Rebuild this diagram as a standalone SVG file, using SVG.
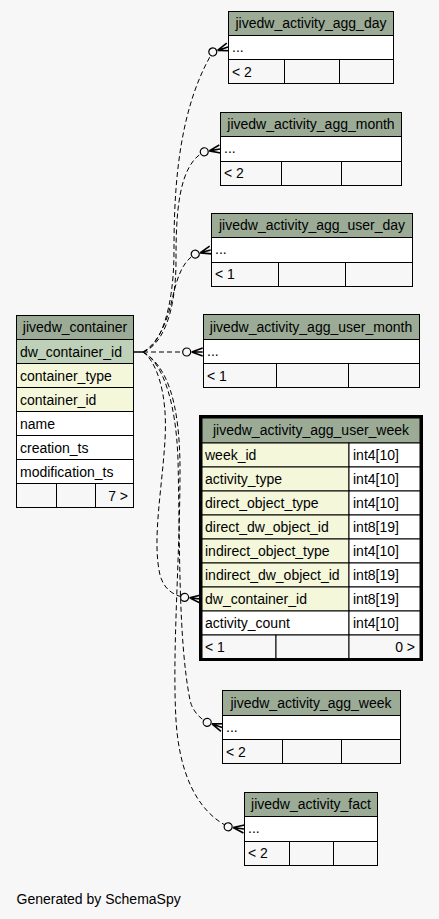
<svg xmlns="http://www.w3.org/2000/svg" xmlns:xlink="http://www.w3.org/1999/xlink" width="439" height="919" viewBox="0 0 439 919">
<style>
text{font-family:"Liberation Sans",Arial,sans-serif;font-size:14px;fill:#000}
.h{fill:#9bab96;stroke:#000;stroke-width:1}
.pk{fill:#bed1b8;stroke:#000;stroke-width:1}
.fk{fill:#f4f7da;stroke:#000;stroke-width:1}
.w{fill:#ffffff;stroke:#000;stroke-width:1}
.f{fill:#f7f7f7;stroke:#000;stroke-width:1}
.c{text-anchor:middle}
.r{text-anchor:end}
.e{fill:none;stroke:#000;stroke-width:1;stroke-dasharray:5,3}
</style>
<defs>
<g id="crow">
<circle cx="-16" cy="0" r="4" fill="#f7f7f7" stroke="#000" stroke-width="1.2"/>
<path d="M-11,0 L0,-4 M-11,0 L0,0 M-11,0 L0,4" fill="none" stroke="#000" stroke-width="1.6"/>
</g>
</defs>
<rect x="0" y="0" width="439" height="919" fill="#f7f7f7"/>
<g id="connectors">
<line x1="133" y1="352" x2="143" y2="352" stroke="#000" stroke-width="1.5"/>
<path class="e" d="M143,352 C160,346 174,310 174,250 C174,190 178,110 212.8,51.9"/>
<path class="e" d="M143,352 C160,346 176,318 176,260 C176,215 178,165 204.2,151.8"/>
<path class="e" d="M143,352 C155,345 165,330 172,300 C177,278 182,262 195.2,254.1"/>
<path class="e" d="M143,352 L186.7,352"/>
<path class="e" d="M143,352 C155,360 168,390 165,440 C162,490 152,540 160,575 C164,590 175,596 184.6,597.3"/>
<path class="e" d="M143,352 C162,362 176,400 178,460 C180,540 178,640 190,700 C192,710 199,718 207.2,722.3"/>
<path class="e" d="M143,352 C166,365 180,400 180,470 C180,560 172,650 176,720 C179,770 195,810 228.2,826.8"/>
<use xlink:href="#crow" transform="translate(228,47) rotate(-18)"/>
<use xlink:href="#crow" transform="translate(220,149) rotate(-10)"/>
<use xlink:href="#crow" transform="translate(210.7,250) rotate(-15)"/>
<use xlink:href="#crow" transform="translate(202.7,352)"/>
<use xlink:href="#crow" transform="translate(200.5,599) rotate(6)"/>
<use xlink:href="#crow" transform="translate(222.3,727.5) rotate(19)"/>
<use xlink:href="#crow" transform="translate(244,829) rotate(8)"/>
</g>
<g id="jivedw_container">
<rect class="h" x="16.5" y="315.5" width="117" height="24"/>
<text class="c" x="75" y="332">jivedw_container</text>
<rect class="pk" x="16.5" y="339.5" width="117" height="24"/>
<text x="20" y="356.5">dw_container_id</text>
<rect class="fk" x="16.5" y="363.5" width="117" height="24"/>
<text x="20" y="380.5">container_type</text>
<rect class="fk" x="16.5" y="387.5" width="117" height="24"/>
<text x="20" y="404.5">container_id</text>
<rect class="w" x="16.5" y="411.5" width="117" height="24"/>
<text x="20" y="428.5">name</text>
<rect class="w" x="16.5" y="435.5" width="117" height="24"/>
<text x="20" y="452.5">creation_ts</text>
<rect class="w" x="16.5" y="459.5" width="117" height="24"/>
<text x="20" y="476.5">modification_ts</text>
<rect class="f" x="16.5" y="483.5" width="40" height="24"/>
<rect class="f" x="56.5" y="483.5" width="39" height="24"/>
<rect class="f" x="95.5" y="483.5" width="38" height="24"/>
<text class="r" x="128" y="500.5">7 &gt;</text>
</g>
<g id="jivedw_activity_agg_day">
<rect class="h" x="228.5" y="11.5" width="165" height="24"/>
<text class="c" x="311" y="28">jivedw_activity_agg_day</text>
<rect class="w" x="228.5" y="35.5" width="165" height="24"/>
<text x="232" y="52">...</text>
<rect class="f" x="228.5" y="59.5" width="56" height="24"/>
<rect class="f" x="284.5" y="59.5" width="55" height="24"/>
<rect class="f" x="339.5" y="59.5" width="54" height="24"/>
<text x="232" y="76.5">&lt; 2</text>
</g>
<g id="jivedw_activity_agg_month">
<rect class="h" x="220.5" y="112.5" width="181" height="24"/>
<text class="c" x="311" y="129">jivedw_activity_agg_month</text>
<rect class="w" x="220.5" y="136.5" width="181" height="25"/>
<text x="224" y="153">...</text>
<rect class="f" x="220.5" y="161.5" width="61" height="24"/>
<rect class="f" x="281.5" y="161.5" width="60" height="24"/>
<rect class="f" x="341.5" y="161.5" width="60" height="24"/>
<text x="224" y="178">&lt; 2</text>
</g>
<g id="jivedw_activity_agg_user_day">
<rect class="h" x="211.5" y="213.5" width="201" height="24"/>
<text class="c" x="312" y="230">jivedw_activity_agg_user_day</text>
<rect class="w" x="211.5" y="237.5" width="201" height="25"/>
<text x="215" y="254">...</text>
<rect class="f" x="211.5" y="262.5" width="67" height="24"/>
<rect class="f" x="278.5" y="262.5" width="67" height="24"/>
<rect class="f" x="345.5" y="262.5" width="67" height="24"/>
<text x="215" y="279">&lt; 1</text>
</g>
<g id="jivedw_activity_agg_user_month">
<rect class="h" x="203.5" y="314.5" width="216" height="25"/>
<text class="c" x="311" y="332">jivedw_activity_agg_user_month</text>
<rect class="w" x="203.5" y="339.5" width="216" height="24"/>
<text x="207" y="356">...</text>
<rect class="f" x="203.5" y="363.5" width="73" height="24"/>
<rect class="f" x="276.5" y="363.5" width="72" height="24"/>
<rect class="f" x="348.5" y="363.5" width="71" height="24"/>
<text x="207" y="380.5">&lt; 1</text>
</g>
<g id="jivedw_activity_agg_user_week">
<rect class="h" x="202" y="418" width="218" height="25"/>
<text class="c" x="311" y="435">jivedw_activity_agg_user_week</text>
<rect class="fk" x="202" y="443" width="147" height="24"/><rect class="w" x="349" y="443" width="71" height="24"/>
<text x="205" y="460">week_id</text><text x="353" y="460">int4[10]</text>
<rect class="fk" x="202" y="467" width="147" height="24"/><rect class="w" x="349" y="467" width="71" height="24"/>
<text x="205" y="484">activity_type</text><text x="353" y="484">int4[10]</text>
<rect class="fk" x="202" y="491" width="147" height="24"/><rect class="w" x="349" y="491" width="71" height="24"/>
<text x="205" y="508">direct_object_type</text><text x="353" y="508">int4[10]</text>
<rect class="fk" x="202" y="515" width="147" height="24"/><rect class="w" x="349" y="515" width="71" height="24"/>
<text x="205" y="532">direct_dw_object_id</text><text x="353" y="532">int8[19]</text>
<rect class="fk" x="202" y="539" width="147" height="24"/><rect class="w" x="349" y="539" width="71" height="24"/>
<text x="205" y="556">indirect_object_type</text><text x="353" y="556">int4[10]</text>
<rect class="fk" x="202" y="563" width="147" height="24"/><rect class="w" x="349" y="563" width="71" height="24"/>
<text x="205" y="580">indirect_dw_object_id</text><text x="353" y="580">int8[19]</text>
<rect class="fk" x="202" y="587" width="147" height="24"/><rect class="w" x="349" y="587" width="71" height="24"/>
<text x="205" y="604">dw_container_id</text><text x="353" y="604">int8[19]</text>
<rect class="w" x="202" y="611" width="147" height="24"/><rect class="w" x="349" y="611" width="71" height="24"/>
<text x="205" y="628">activity_count</text><text x="353" y="628">int4[10]</text>
<rect class="f" x="202" y="635" width="74" height="24"/>
<rect class="f" x="276" y="635" width="73" height="24"/>
<rect class="f" x="349" y="635" width="71" height="24"/>
<text x="205" y="652">&lt; 1</text>
<text class="r" x="415" y="652">0 &gt;</text>
<rect x="200.5" y="416.5" width="221" height="243" fill="none" stroke="#000" stroke-width="3"/>
</g>
<g id="jivedw_activity_agg_week">
<rect class="h" x="222.5" y="690.5" width="178" height="25"/>
<text class="c" x="311" y="708">jivedw_activity_agg_week</text>
<rect class="w" x="222.5" y="715.5" width="178" height="24"/>
<text x="226" y="732">...</text>
<rect class="f" x="222.5" y="739.5" width="60" height="24"/>
<rect class="f" x="282.5" y="739.5" width="59" height="24"/>
<rect class="f" x="341.5" y="739.5" width="59" height="24"/>
<text x="226" y="756.5">&lt; 2</text>
</g>
<g id="jivedw_activity_fact">
<rect class="h" x="244.5" y="792.5" width="133" height="24"/>
<text class="c" x="311" y="809">jivedw_activity_fact</text>
<rect class="w" x="244.5" y="816.5" width="133" height="25"/>
<text x="248" y="833">...</text>
<rect class="f" x="244.5" y="841.5" width="45" height="24"/>
<rect class="f" x="289.5" y="841.5" width="44" height="24"/>
<rect class="f" x="333.5" y="841.5" width="44" height="24"/>
<text x="248" y="858">&lt; 2</text>
</g>
<text x="16.5" y="904">Generated by SchemaSpy</text>
</svg>
